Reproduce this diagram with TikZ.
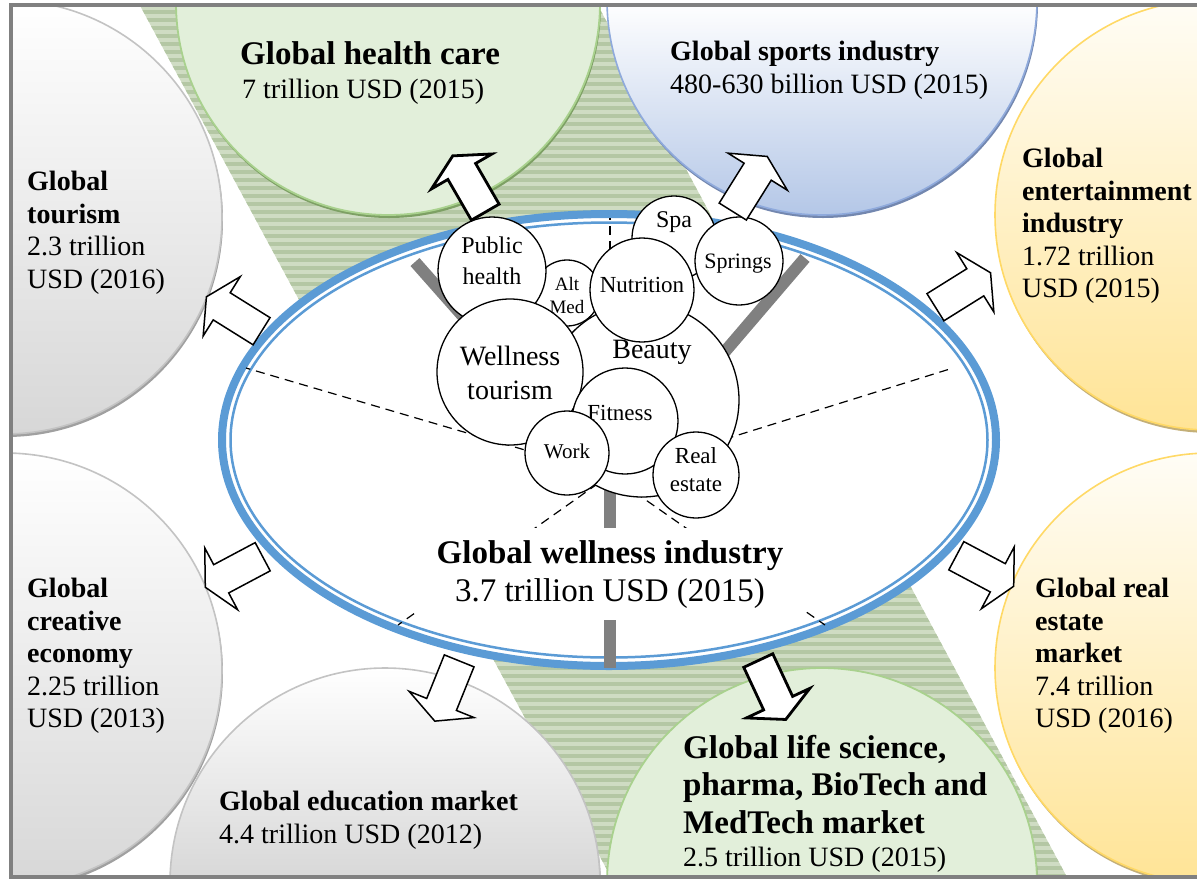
\documentclass[tikz,border=0pt]{standalone}
\usepackage{fontspec}
\setmainfont{Liberation Serif}

\definecolor{framegray}{RGB}{128,128,128}
\definecolor{bandbase}{RGB}{207,220,195}
\definecolor{bandline}{RGB}{180,199,164}
\definecolor{healthfill}{RGB}{226,239,218}
\definecolor{healthline}{RGB}{169,209,142}
\definecolor{healthshade}{RGB}{125,160,100}
\definecolor{grayline}{RGB}{195,195,195}
\definecolor{graybottom}{RGB}{215,215,215}
\definecolor{grayshade}{RGB}{160,160,160}
\definecolor{bluebottom}{RGB}{180,199,231}
\definecolor{blueline}{RGB}{143,170,220}
\definecolor{blueshade}{RGB}{115,135,175}
\definecolor{yellowtop}{RGB}{255,253,246}
\definecolor{yellowbottom}{RGB}{255,228,150}
\definecolor{yellowline}{RGB}{255,217,102}
\definecolor{yellowshade}{RGB}{195,175,120}
\definecolor{ringblue}{RGB}{91,155,213}
\definecolor{trunkgray}{RGB}{128,128,128}

\tikzset{
  blockarrow/.pic={
    \draw[fill=white,line join=miter] (-32.5,-16) -- (14.5,-16) -- (14.5,-35) -- (32.5,0)
      -- (14.5,35) -- (14.5,16) -- (-32.5,16) -- cycle;
  }
}

\begin{document}
\begin{tikzpicture}[x=1pt,y=-1pt,
    bubble/.style={circle,draw,fill=white,line width=1.3pt,inner sep=0pt},
    bubbletext/.style={inner sep=0pt,align=center},
    lbl/.style={anchor=north west,inner sep=0pt,align=left,font=\fontsize{28}{32.5}\selectfont},
    spoke/.style={dashed,dash pattern=on 9pt off 6pt,line width=1.2pt},
    trunk/.style={line width=12pt,trunkgray},
    thinarrow/.style={line width=1.5pt},
    thickarrow/.style={line width=2.8pt}]

\useasboundingbox (0,0) rectangle (1197,879);

\begin{scope}
  \clip (11,5) rectangle (1197,877);

  % striped diagonal band
  \begin{scope}
    \clip (137,0) -- (595,0) -- (1068,879) -- (612,879) -- cycle;
    \fill[bandbase] (0,0) rectangle (1197,879);
    \foreach \s in {2,10,...,874}
      \fill[bandline] (0,\s) rectangle (1197,\s+4);
  \end{scope}

  % market circles, left column
  \fill[grayshade] (6,220) circle[radius=217pt];
  \draw[grayline,line width=1.6pt,top color=white,bottom color=graybottom] (5,217) circle[radius=217pt];
  \fill[grayshade] (6,673) circle[radius=217pt];
  \draw[grayline,line width=1.6pt,top color=white,bottom color=graybottom] (5,670) circle[radius=217pt];

  % market circles, bottom row
  \fill[grayshade] (386,886) circle[radius=215pt];
  \draw[grayline,line width=1.6pt,top color=white,bottom color=gray!30,middle color=graybottom] (385,883) circle[radius=215pt];
  \fill[healthshade] (823,886) circle[radius=215pt];
  \draw[healthline,line width=1.8pt,fill=healthfill] (822,883) circle[radius=215pt];

  % market circles, top row
  \fill[healthshade] (389,6) circle[radius=212pt];
  \draw[healthline,line width=1.8pt,fill=healthfill] (388,3) circle[radius=212pt];
  \fill[blueshade] (823,3) circle[radius=215pt];
  \draw[blueline,line width=1.6pt,top color=white,bottom color=bluebottom,middle color=white] (822,0) circle[radius=215pt];

  % market circles, right column
  \fill[yellowshade] (1211,218) circle[radius=215pt];
  \draw[yellowline,line width=1.6pt,top color=yellowtop,bottom color=yellowbottom] (1210,215) circle[radius=215pt];
  \fill[yellowshade] (1211,671) circle[radius=215pt];
  \draw[yellowline,line width=1.6pt,top color=yellowtop,bottom color=yellowbottom] (1210,668) circle[radius=215pt];

  % wellness ring
  \fill[white] (609,440) ellipse[x radius=387pt,y radius=226pt];
  \draw[ringblue,line width=8pt] (609,440) ellipse[x radius=387pt,y radius=226pt];
  \draw[ringblue,line width=2.5pt] (609,440) ellipse[x radius=378.5pt,y radius=217.5pt];

  % dashed spokes
  \coordinate (hub) at (610,475);
  \coordinate (spokeW) at (246,368);
  \coordinate (spokeE) at (953,368);
  \coordinate (spokeN) at (610,218);
  \coordinate (spokeSW) at (398,625);
  \coordinate (spokeSE) at (825,625);
  \foreach \e in {spokeW,spokeE,spokeN,spokeSW,spokeSE}
    \draw[spoke] (hub) -- (\e);

  % trunks
  \draw[trunk] (415,262) -- (468,322);
  \draw[trunk] (805,258) -- (722,355);
  \draw[trunk] (610,490) -- (610,668);

  % segment bubbles
  \node[bubble,minimum size=84pt] (spa) at (674,238) {};
  \node[bubbletext,font=\fontsize{24}{28}\selectfont] (spatxt) at (674,222) {Spa};
  \node[bubble,minimum size=66pt] (altmed) at (567,293) {};
  \node[bubbletext,font=\fontsize{19}{23}\selectfont] (altmedtxt) at (567,295) {Alt\\Med};
  \node[bubble,minimum size=194pt] (beauty) at (642,400) {};
  \node[bubbletext,font=\fontsize{28}{32}\selectfont] (beautytxt) at (652,352) {Beauty};
  \node[bubble,minimum size=104pt] (nutrition) at (642,290) {};
  \node[bubbletext,font=\fontsize{23}{27}\selectfont] (nutritiontxt) at (642,285) {Nutrition};
  \node[bubble,minimum size=88pt] (springs) at (739,261) {};
  \node[bubbletext,font=\fontsize{22}{26}\selectfont] (springstxt) at (738,264) {Springs};
  \node[bubble,minimum size=108pt] (pubhealth) at (492,271) {};
  \node[bubbletext,font=\fontsize{24}{31}\selectfont] (pubhealthtxt) at (492,261) {Public\\health};
  \node[bubble,minimum size=146pt] (welltour) at (510,372) {};
  \node[bubbletext,font=\fontsize{28}{34}\selectfont] (welltourtxt) at (510,373) {Wellness\\tourism};
  \node[bubble,minimum size=106pt] (fitness) at (625,421) {};
  \node[bubbletext,font=\fontsize{23}{27}\selectfont] (fitnesstxt) at (620,413) {Fitness};
  \node[bubble,minimum size=84pt] (work) at (567,453) {};
  \node[bubbletext,font=\fontsize{21}{25}\selectfont] (worktxt) at (567,451) {Work};
  \node[bubble,minimum size=86pt] (realestate) at (696,475) {};
  \node[bubbletext,font=\fontsize{23}{28}\selectfont] (realestatetxt) at (696,470) {Real\\estate};

  % centre label
  \node[anchor=north,fill=white,inner xsep=20pt,inner ysep=12pt,align=center,
        font=\fontsize{33}{38}\selectfont] (wellness) at (610,528)
        {\textbf{Global wellness industry}\\3.7 trillion USD (2015)};

  % block arrows out of the ring
  \pic[thickarrow,rotate=120] (toHealth) at (469,184) {blockarrow};
  \pic[thinarrow,rotate=58] (toSports) at (750,184) {blockarrow};
  \pic[thinarrow,rotate=148] (toTourism) at (234,314) {blockarrow};
  \pic[thinarrow,rotate=32] (toEntertain) at (963,290) {blockarrow};
  \pic[thinarrow,rotate=208] (toCreative) at (234,572) {blockarrow};
  \pic[thinarrow,rotate=-28] (toRealEst) at (985,571) {blockarrow};
  \pic[thinarrow,rotate=248] (toEducation) at (447,691) {blockarrow};
  \pic[thickarrow,rotate=-65] (toLifeSci) at (772,690) {blockarrow};

  % market labels
  \node[lbl,font=\fontsize{33}{38}\selectfont\bfseries] (healthtitle) at (240,41) {Global health care};
  \node[lbl] (healthvalue) at (242,79) {7 trillion USD (2015)};
  \node[lbl] (sports) at (670,41) {\textbf{Global sports industry}\\480-630 billion USD (2015)};
  \node[lbl] (entertain) at (1022,148) {\textbf{Global}\\\textbf{entertainment}\\\textbf{industry}\\1.72 trillion\\USD (2015)};
  \node[lbl] (tourism) at (27,171) {\textbf{Global}\\\textbf{tourism}\\2.3 trillion\\USD (2016)};
  \node[lbl] (creative) at (27,578) {\textbf{Global}\\\textbf{creative}\\\textbf{economy}\\2.25 trillion\\USD (2013)};
  \node[lbl] (education) at (219,791) {\textbf{Global education market}\\4.4 trillion USD (2012)};
  \node[lbl] (realestmkt) at (1035,578) {\textbf{Global real}\\\textbf{estate}\\\textbf{market}\\7.4 trillion\\USD (2016)};
  \node[lbl,font=\fontsize{33}{37.5}\selectfont\bfseries] (lifescititle) at (683,735)
        {Global life science,\\pharma, BioTech and\\MedTech market};
  \node[lbl] (lifescivalue) at (683,847) {2.5 trillion USD (2015)};
\end{scope}

% frame
\draw[framegray,line width=4.5pt] (11,5) rectangle (1205,877);
\end{tikzpicture}
\end{document}
